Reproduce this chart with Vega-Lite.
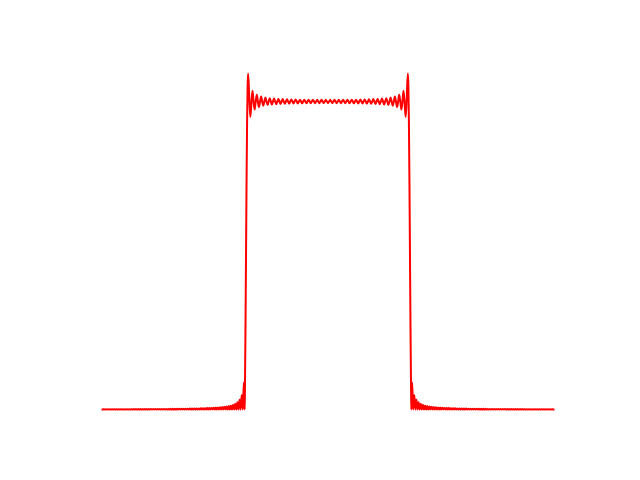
{
"$schema": "https://vega.github.io/schema/vega-lite/v6.json",
"width": 496, "height": 369.6,
"autosize": {"type": "none"},
"padding": {"left": 80, "top": 57.6, "right": 64, "bottom": 52.8},
"background": "white",
"config": {"view": {"stroke": null}},
"data": {"values": [
{"x":-2.75,"y":0},{"x":-2.7368,"y":0.0008},{"x":-2.7237,"y":0},{"x":-2.7105,"y":0.0008},{"x":-2.6974,"y":0},
{"x":-2.6842,"y":0.0009},{"x":-2.6711,"y":0},{"x":-2.6579,"y":0.0009},{"x":-2.6447,"y":0},{"x":-2.6316,"y":0.0009},
{"x":-2.6184,"y":0},{"x":-2.6053,"y":0.0009},{"x":-2.5921,"y":0},{"x":-2.5789,"y":0.0009},{"x":-2.5658,"y":0},
{"x":-2.5526,"y":0.0010},{"x":-2.5395,"y":0},{"x":-2.5263,"y":0.0010},{"x":-2.5132,"y":0},{"x":-2.5,"y":0.0010},
{"x":-2.4868,"y":0},{"x":-2.4737,"y":0.0011},{"x":-2.4605,"y":0},{"x":-2.4474,"y":0.0011},{"x":-2.4342,"y":0},
{"x":-2.4211,"y":0.0011},{"x":-2.4079,"y":0},{"x":-2.3947,"y":0.0011},{"x":-2.3816,"y":0},{"x":-2.3684,"y":0.0012},
{"x":-2.3553,"y":0},{"x":-2.3421,"y":0.0012},{"x":-2.3289,"y":0},{"x":-2.3158,"y":0.0012},{"x":-2.3026,"y":0},
{"x":-2.2895,"y":0.0013},{"x":-2.2763,"y":0},{"x":-2.2632,"y":0.0013},{"x":-2.25,"y":0},{"x":-2.2368,"y":0.0013},
{"x":-2.2237,"y":0},{"x":-2.2105,"y":0.0014},{"x":-2.1974,"y":0},{"x":-2.1842,"y":0.0014},{"x":-2.1711,"y":0},
{"x":-2.1579,"y":0.0015},{"x":-2.1447,"y":0},{"x":-2.1316,"y":0.0015},{"x":-2.1184,"y":0},{"x":-2.1053,"y":0.0016},
{"x":-2.0921,"y":0},{"x":-2.0789,"y":0.0016},{"x":-2.0658,"y":0},{"x":-2.0526,"y":0.0017},{"x":-2.0395,"y":0},
{"x":-2.0263,"y":0.0017},{"x":-2.0132,"y":0},{"x":-2.0,"y":0.0018},{"x":-1.9868,"y":0},{"x":-1.9737,"y":0.0018},
{"x":-1.9605,"y":0},{"x":-1.9474,"y":0.0019},{"x":-1.9342,"y":0},{"x":-1.9211,"y":0.0020},{"x":-1.9079,"y":0},
{"x":-1.8947,"y":0.0021},{"x":-1.8816,"y":0},{"x":-1.8684,"y":0.0021},{"x":-1.8553,"y":0},{"x":-1.8421,"y":0.0022},
{"x":-1.8289,"y":0},{"x":-1.8158,"y":0.0023},{"x":-1.8026,"y":0},
{"x":-1.7895,"y":0.0024},{"x":-1.7763,"y":0},{"x":-1.7632,"y":0.0025},{"x":-1.75,"y":0},
{"x":-1.7368,"y":0.0026},{"x":-1.7237,"y":0},{"x":-1.7105,"y":0.0028},{"x":-1.6974,"y":0},
{"x":-1.6842,"y":0.0029},{"x":-1.6711,"y":0},{"x":-1.6579,"y":0.0030},{"x":-1.6447,"y":0},
{"x":-1.6316,"y":0.0032},{"x":-1.6184,"y":0},{"x":-1.6053,"y":0.0034},{"x":-1.5921,"y":0},
{"x":-1.5789,"y":0.0036},{"x":-1.5658,"y":0},{"x":-1.5526,"y":0.0038},{"x":-1.5395,"y":0},
{"x":-1.5263,"y":0.0040},{"x":-1.5132,"y":0},{"x":-1.5,"y":0.0043},{"x":-1.4868,"y":0},
{"x":-1.4737,"y":0.0046},{"x":-1.4605,"y":0},{"x":-1.4474,"y":0.0049},{"x":-1.4342,"y":0},
{"x":-1.4211,"y":0.0052},{"x":-1.4079,"y":0},{"x":-1.3947,"y":0.0056},{"x":-1.3816,"y":0},
{"x":-1.3684,"y":0.0061},{"x":-1.3553,"y":0},{"x":-1.3421,"y":0.0067},{"x":-1.3289,"y":0},
{"x":-1.3158,"y":0.0073},{"x":-1.3026,"y":0},{"x":-1.2895,"y":0.0080},{"x":-1.2763,"y":0},
{"x":-1.2632,"y":0.0089},{"x":-1.25,"y":0},{"x":-1.2368,"y":0.0100},{"x":-1.2237,"y":0},
{"x":-1.2105,"y":0.0114},{"x":-1.1974,"y":0},{"x":-1.1842,"y":0.0132},{"x":-1.1711,"y":0},
{"x":-1.1579,"y":0.0156},{"x":-1.1447,"y":0},{"x":-1.1316,"y":0.0189},{"x":-1.1184,"y":0},
{"x":-1.1053,"y":0.0238},{"x":-1.0921,"y":0},{"x":-1.0789,"y":0.0318},{"x":-1.0658,"y":0},
{"x":-1.0526,"y":0.0473},{"x":-1.0395,"y":0},{"x":-1.0263,"y":0.0882},{"x":-1.0211,"y":0.067},
{"x":-1.0162,"y":0},{"x":-1.0132,"y":0.0637},{"x":-1.0066,"y":0.2584},{"x":-1,"y":0.5},
{"x":-0.9934,"y":0.7416},{"x":-0.9868,"y":0.9363},{"x":-0.9803,"y":1.0523},{"x":-0.9737,"y":1.0908},
{"x":-0.9605,"y":1.0125},{"x":-0.9474,"y":0.9500},{"x":-0.9342,"y":0.995},{"x":-0.9211,"y":1.0345},
{"x":-0.9079,"y":1.0},{"x":-0.8947,"y":0.9736},{"x":-0.8816,"y":1.0},{"x":-0.8684,"y":1.0215},
{"x":-0.8553,"y":1.0},{"x":-0.8421,"y":0.9818},{"x":-0.8289,"y":1.0},{"x":-0.8158,"y":1.0159},
{"x":-0.8026,"y":1.0},{"x":-0.7895,"y":0.9859},{"x":-0.7763,"y":1.0},{"x":-0.7632,"y":1.0127},
{"x":-0.75,"y":1.0},{"x":-0.7368,"y":0.9884},{"x":-0.7237,"y":1.0},{"x":-0.7105,"y":1.0108},
{"x":-0.6974,"y":1.0},{"x":-0.6842,"y":0.9900},{"x":-0.6711,"y":1.0},{"x":-0.6579,"y":1.0094},
{"x":-0.6447,"y":1.0},{"x":-0.6316,"y":0.9911},{"x":-0.6184,"y":1.0},{"x":-0.6053,"y":1.0084},
{"x":-0.5921,"y":1.0},{"x":-0.5789,"y":0.9920},{"x":-0.5658,"y":1.0},{"x":-0.5526,"y":1.0077},
{"x":-0.5395,"y":1.0},{"x":-0.5263,"y":0.9926},{"x":-0.5132,"y":1.0},{"x":-0.5,"y":1.0071},
{"x":-0.4868,"y":1.0},{"x":-0.4737,"y":0.9931},{"x":-0.4605,"y":1.0},{"x":-0.4474,"y":1.0067},
{"x":-0.4342,"y":1.0},{"x":-0.4211,"y":0.9935},{"x":-0.4079,"y":1.0},{"x":-0.3947,"y":1.0063},
{"x":-0.3816,"y":1.0},{"x":-0.3684,"y":0.9938},{"x":-0.3553,"y":1.0},{"x":-0.3421,"y":1.0060},
{"x":-0.3289,"y":1.0},{"x":-0.3158,"y":0.9941},{"x":-0.3026,"y":1.0},{"x":-0.2895,"y":1.0058},
{"x":-0.2763,"y":1.0},{"x":-0.2632,"y":0.9943},{"x":-0.25,"y":1.0},{"x":-0.2368,"y":1.0057},
{"x":-0.2237,"y":1.0},{"x":-0.2105,"y":0.9944},{"x":-0.1974,"y":1.0},{"x":-0.1842,"y":1.0055},
{"x":-0.1711,"y":1.0},{"x":-0.1579,"y":0.9945},{"x":-0.1447,"y":1.0},{"x":-0.1316,"y":1.0054},
{"x":-0.1184,"y":1.0},{"x":-0.1053,"y":0.9946},{"x":-0.0921,"y":1.0},{"x":-0.0789,"y":1.0054},
{"x":-0.0658,"y":1.0},{"x":-0.0526,"y":0.9947},{"x":-0.0395,"y":1.0},{"x":-0.0263,"y":1.0053},
{"x":-0.0132,"y":1.0},{"x":0,"y":0.9947},{"x":0.0132,"y":1.0},
{"x":0.0263,"y":1.0053},{"x":0.0395,"y":1.0},{"x":0.0526,"y":0.9947},{"x":0.0658,"y":1.0},
{"x":0.0789,"y":1.0054},{"x":0.0921,"y":1.0},{"x":0.1053,"y":0.9946},{"x":0.1184,"y":1.0},
{"x":0.1316,"y":1.0054},{"x":0.1447,"y":1.0},{"x":0.1579,"y":0.9945},{"x":0.1711,"y":1.0},
{"x":0.1842,"y":1.0055},{"x":0.1974,"y":1.0},{"x":0.2105,"y":0.9944},{"x":0.2237,"y":1.0},
{"x":0.2368,"y":1.0057},{"x":0.25,"y":1.0},{"x":0.2632,"y":0.9943},{"x":0.2763,"y":1.0},
{"x":0.2895,"y":1.0058},{"x":0.3026,"y":1.0},{"x":0.3158,"y":0.9941},{"x":0.3289,"y":1.0},
{"x":0.3421,"y":1.0060},{"x":0.3553,"y":1.0},{"x":0.3684,"y":0.9938},{"x":0.3816,"y":1.0},
{"x":0.3947,"y":1.0063},{"x":0.4079,"y":1.0},{"x":0.4211,"y":0.9935},{"x":0.4342,"y":1.0},
{"x":0.4474,"y":1.0067},{"x":0.4605,"y":1.0},{"x":0.4737,"y":0.9931},{"x":0.4868,"y":1.0},
{"x":0.5,"y":1.0071},{"x":0.5132,"y":1.0},{"x":0.5263,"y":0.9926},{"x":0.5395,"y":1.0},
{"x":0.5526,"y":1.0077},{"x":0.5658,"y":1.0},{"x":0.5789,"y":0.9920},{"x":0.5921,"y":1.0},
{"x":0.6053,"y":1.0084},{"x":0.6184,"y":1.0},{"x":0.6316,"y":0.9911},{"x":0.6447,"y":1.0},
{"x":0.6579,"y":1.0094},{"x":0.6711,"y":1.0},{"x":0.6842,"y":0.9900},{"x":0.6974,"y":1.0},
{"x":0.7105,"y":1.0108},{"x":0.7237,"y":1.0},{"x":0.7368,"y":0.9884},{"x":0.75,"y":1.0},
{"x":0.7632,"y":1.0127},{"x":0.7763,"y":1.0},{"x":0.7895,"y":0.9859},{"x":0.8026,"y":1.0},
{"x":0.8158,"y":1.0159},{"x":0.8289,"y":1.0},{"x":0.8421,"y":0.9818},{"x":0.8553,"y":1.0},
{"x":0.8684,"y":1.0215},{"x":0.8816,"y":1.0},{"x":0.8947,"y":0.9736},{"x":0.9079,"y":1.0},
{"x":0.9211,"y":1.0345},{"x":0.9342,"y":0.995},
{"x":0.9474,"y":0.9500},{"x":0.9605,"y":1.0125},{"x":0.9737,"y":1.0908},{"x":0.9803,"y":1.0523},
{"x":0.9868,"y":0.9363},{"x":0.9934,"y":0.7416},{"x":1,"y":0.5},{"x":1.0066,"y":0.2584},
{"x":1.0132,"y":0.0637},{"x":1.0162,"y":0},{"x":1.0211,"y":0.067},{"x":1.0263,"y":0.0882},
{"x":1.0395,"y":0},{"x":1.0526,"y":0.0473},{"x":1.0658,"y":0},{"x":1.0789,"y":0.0318},
{"x":1.0921,"y":0},{"x":1.1053,"y":0.0238},{"x":1.1184,"y":0},{"x":1.1316,"y":0.0189},
{"x":1.1447,"y":0},{"x":1.1579,"y":0.0156},{"x":1.1711,"y":0},{"x":1.1842,"y":0.0132},
{"x":1.1974,"y":0},{"x":1.2105,"y":0.0114},{"x":1.2237,"y":0},{"x":1.2368,"y":0.0100},
{"x":1.25,"y":0},{"x":1.2632,"y":0.0089},{"x":1.2763,"y":0},{"x":1.2895,"y":0.0080},
{"x":1.3026,"y":0},{"x":1.3158,"y":0.0073},{"x":1.3289,"y":0},{"x":1.3421,"y":0.0067},
{"x":1.3553,"y":0},{"x":1.3684,"y":0.0061},{"x":1.3816,"y":0},{"x":1.3947,"y":0.0056},
{"x":1.4079,"y":0},{"x":1.4211,"y":0.0052},{"x":1.4342,"y":0},{"x":1.4474,"y":0.0049},
{"x":1.4605,"y":0},{"x":1.4737,"y":0.0046},{"x":1.4868,"y":0},{"x":1.5,"y":0.0043},
{"x":1.5132,"y":0},{"x":1.5263,"y":0.0040},{"x":1.5395,"y":0},{"x":1.5526,"y":0.0038},
{"x":1.5658,"y":0},{"x":1.5789,"y":0.0036},{"x":1.5921,"y":0},{"x":1.6053,"y":0.0034},
{"x":1.6184,"y":0},{"x":1.6316,"y":0.0032},{"x":1.6447,"y":0},{"x":1.6579,"y":0.0030},
{"x":1.6711,"y":0},{"x":1.6842,"y":0.0029},{"x":1.6974,"y":0},{"x":1.7105,"y":0.0028},
{"x":1.7237,"y":0},{"x":1.7368,"y":0.0026},{"x":1.75,"y":0},{"x":1.7632,"y":0.0025},
{"x":1.7763,"y":0},{"x":1.7895,"y":0.0024},{"x":1.8026,"y":0},
{"x":1.8158,"y":0.0023},{"x":1.8289,"y":0},{"x":1.8421,"y":0.0022},{"x":1.8553,"y":0},{"x":1.8684,"y":0.0021},
{"x":1.8816,"y":0},{"x":1.8947,"y":0.0021},{"x":1.9079,"y":0},{"x":1.9211,"y":0.0020},{"x":1.9342,"y":0},
{"x":1.9474,"y":0.0019},{"x":1.9605,"y":0},{"x":1.9737,"y":0.0018},{"x":1.9868,"y":0},{"x":2.0,"y":0.0018},
{"x":2.0132,"y":0},{"x":2.0263,"y":0.0017},{"x":2.0395,"y":0},{"x":2.0526,"y":0.0017},{"x":2.0658,"y":0},
{"x":2.0789,"y":0.0016},{"x":2.0921,"y":0},{"x":2.1053,"y":0.0016},{"x":2.1184,"y":0},{"x":2.1316,"y":0.0015},
{"x":2.1447,"y":0},{"x":2.1579,"y":0.0015},{"x":2.1711,"y":0},{"x":2.1842,"y":0.0014},{"x":2.1974,"y":0},
{"x":2.2105,"y":0.0014},{"x":2.2237,"y":0},{"x":2.2368,"y":0.0013},{"x":2.25,"y":0},{"x":2.2632,"y":0.0013},
{"x":2.2763,"y":0},{"x":2.2895,"y":0.0013},{"x":2.3026,"y":0},{"x":2.3158,"y":0.0012},{"x":2.3289,"y":0},
{"x":2.3421,"y":0.0012},{"x":2.3553,"y":0},{"x":2.3684,"y":0.0012},{"x":2.3816,"y":0},{"x":2.3947,"y":0.0011},
{"x":2.4079,"y":0},{"x":2.4211,"y":0.0011},{"x":2.4342,"y":0},{"x":2.4474,"y":0.0011},{"x":2.4605,"y":0},
{"x":2.4737,"y":0.0011},{"x":2.4868,"y":0},{"x":2.5,"y":0.0010},{"x":2.5132,"y":0},{"x":2.5263,"y":0.0010},
{"x":2.5395,"y":0},{"x":2.5526,"y":0.0010},{"x":2.5658,"y":0},{"x":2.5789,"y":0.0009},{"x":2.5921,"y":0},
{"x":2.6053,"y":0.0009},{"x":2.6184,"y":0},{"x":2.6316,"y":0.0009},{"x":2.6447,"y":0},{"x":2.6579,"y":0.0009},
{"x":2.6711,"y":0},{"x":2.6842,"y":0.0009},{"x":2.6974,"y":0},{"x":2.7105,"y":0.0008},{"x":2.7237,"y":0},
{"x":2.7368,"y":0.0008},{"x":2.75,"y":0}
]},
"mark": {"type": "line", "color": "#ff0000", "strokeWidth": 2, "strokeJoin": "round", "strokeCap": "square", "interpolate": "monotone"},
"encoding": {
  "x": {"field": "x", "type": "quantitative", "scale": {"domain": [-3.025, 3.025], "nice": false, "zero": false}, "axis": null},
  "y": {"field": "y", "type": "quantitative", "scale": {"domain": [-0.0575, 1.1425], "nice": false, "zero": false}, "axis": null}
}
}
